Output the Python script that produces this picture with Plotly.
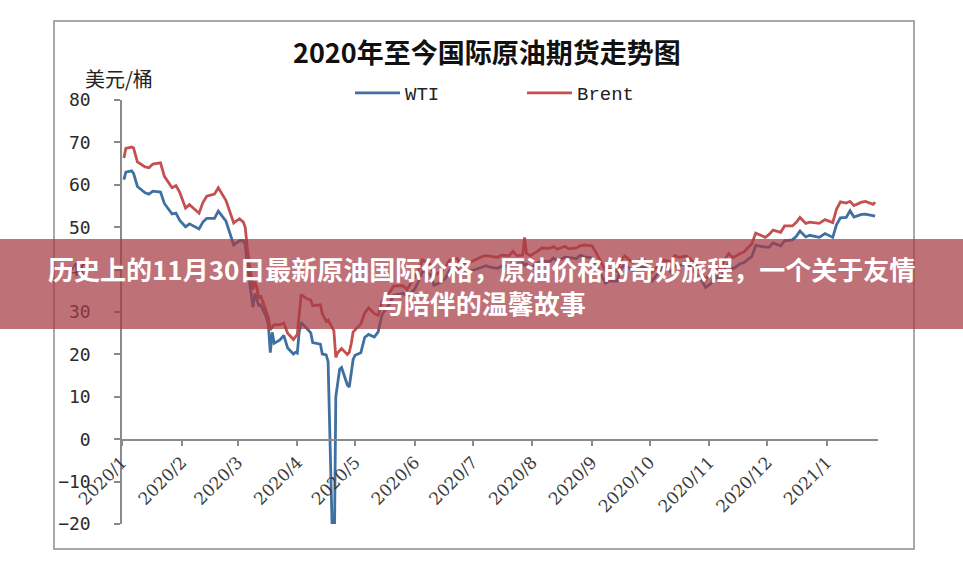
import plotly.graph_objects as go

W, H = 963, 568

# ---------------- data ----------------
brent_dates = [
    "2020-01-02", "2020-01-03", "2020-01-06", "2020-01-07", "2020-01-09", "2020-01-13", "2020-01-15",
    "2020-01-17", "2020-01-21", "2020-01-23", "2020-01-27", "2020-01-29", "2020-01-31", "2020-02-03",
    "2020-02-05", "2020-02-07", "2020-02-10", "2020-02-12", "2020-02-14", "2020-02-18", "2020-02-20",
    "2020-02-24", "2020-02-26", "2020-02-28", "2020-03-02", "2020-03-04", "2020-03-05", "2020-03-06",
    "2020-03-09", "2020-03-10", "2020-03-11", "2020-03-12", "2020-03-13", "2020-03-16", "2020-03-17",
    "2020-03-18", "2020-03-20", "2020-03-23", "2020-03-25", "2020-03-27", "2020-03-30", "2020-04-01",
    "2020-04-02", "2020-04-03", "2020-04-06", "2020-04-08", "2020-04-09", "2020-04-13", "2020-04-14",
    "2020-04-16", "2020-04-17", "2020-04-20", "2020-04-21", "2020-04-22", "2020-04-24", "2020-04-27",
    "2020-04-28", "2020-04-29", "2020-04-30", "2020-05-04", "2020-05-06", "2020-05-08", "2020-05-11",
    "2020-05-13", "2020-05-15", "2020-05-19", "2020-05-21", "2020-05-26", "2020-05-28", "2020-06-01",
    "2020-06-03", "2020-06-05", "2020-06-09", "2020-06-11", "2020-06-15", "2020-06-17", "2020-06-19",
    "2020-06-23", "2020-06-25", "2020-06-29", "2020-07-01", "2020-07-06", "2020-07-08", "2020-07-10",
    "2020-07-14", "2020-07-16", "2020-07-20", "2020-07-22", "2020-07-24", "2020-07-27", "2020-07-28",
    "2020-07-29", "2020-07-31", "2020-08-04", "2020-08-06", "2020-08-10", "2020-08-12", "2020-08-14",
    "2020-08-18", "2020-08-20", "2020-08-24", "2020-08-26", "2020-08-28", "2020-09-01", "2020-09-03",
    "2020-09-08", "2020-09-10", "2020-09-14", "2020-09-16", "2020-09-18", "2020-09-22", "2020-09-24",
    "2020-09-28", "2020-09-30", "2020-10-02", "2020-10-06", "2020-10-08", "2020-10-12", "2020-10-14",
    "2020-10-16", "2020-10-20", "2020-10-22", "2020-10-26", "2020-10-28", "2020-10-30", "2020-11-02",
    "2020-11-04", "2020-11-06", "2020-11-09", "2020-11-11", "2020-11-13", "2020-11-17", "2020-11-19",
    "2020-11-23", "2020-11-25", "2020-11-27", "2020-11-30", "2020-12-02", "2020-12-04", "2020-12-08",
    "2020-12-10", "2020-12-14", "2020-12-16", "2020-12-18", "2020-12-21", "2020-12-23", "2020-12-28",
    "2020-12-31", "2021-01-04", "2021-01-06", "2021-01-08", "2021-01-11", "2021-01-13", "2021-01-15",
    "2021-01-19", "2021-01-21", "2021-01-25", "2021-01-26",
]
brent_values = [
    66.3, 68.6, 68.9, 68.7, 65.4, 64.2, 64.0,
    64.9, 65.2, 62.0, 59.3, 59.8, 58.2, 54.5,
    55.3, 54.5, 53.3, 55.8, 57.3, 57.8, 59.3,
    56.3, 53.4, 51.0, 52.0, 51.2, 49.9, 45.3,
    35.3, 37.2, 35.8, 33.2, 33.9, 30.1, 28.7,
    25.8, 27.0, 27.0, 27.4, 25.0, 23.5, 24.7,
    29.9, 34.1, 33.1, 32.8, 31.5, 31.7, 29.6,
    27.8, 28.1, 25.6, 19.3, 20.4, 21.4, 20.0,
    20.5, 22.5, 25.3, 27.2, 29.7, 31.0, 29.6,
    29.2, 32.5, 34.7, 36.1, 36.2, 35.3, 38.3,
    39.8, 42.3, 41.2, 38.6, 39.7, 40.7, 42.2,
    42.6, 41.1, 41.7, 42.0, 43.1, 43.3, 43.2,
    42.9, 43.4, 43.3, 44.3, 43.3, 43.4, 47.6,
    43.8, 43.3, 44.4, 45.1, 45.0, 45.4, 44.8,
    45.5, 44.9, 45.1, 45.6, 45.8, 45.6, 44.1,
    39.8, 40.1, 39.6, 42.2, 43.2, 41.7, 41.9,
    42.4, 41.0, 39.3, 41.3, 42.3, 41.7, 43.3,
    42.9, 43.2, 42.5, 40.5, 39.1, 37.5, 39.7,
    41.2, 39.5, 42.4, 43.8, 42.8, 43.8, 44.2,
    46.1, 48.6, 48.2, 47.6, 48.3, 49.3, 48.8,
    50.3, 50.3, 51.1, 52.3, 50.9, 51.2, 50.9,
    51.8, 51.1, 54.3, 56.0, 55.7, 56.1, 55.1,
    55.9, 56.1, 55.4, 55.9,
]

wti_dates = [
    "2020-01-02", "2020-01-03", "2020-01-06", "2020-01-07", "2020-01-09", "2020-01-13", "2020-01-15",
    "2020-01-17", "2020-01-21", "2020-01-23", "2020-01-27", "2020-01-29", "2020-01-31", "2020-02-03",
    "2020-02-05", "2020-02-07", "2020-02-10", "2020-02-12", "2020-02-14", "2020-02-18", "2020-02-20",
    "2020-02-24", "2020-02-26", "2020-02-28", "2020-03-02", "2020-03-04", "2020-03-05", "2020-03-06",
    "2020-03-09", "2020-03-10", "2020-03-11", "2020-03-12", "2020-03-13", "2020-03-16", "2020-03-17",
    "2020-03-18", "2020-03-19", "2020-03-20", "2020-03-23", "2020-03-25", "2020-03-27", "2020-03-30",
    "2020-03-31", "2020-04-01", "2020-04-02", "2020-04-03", "2020-04-06", "2020-04-08", "2020-04-09",
    "2020-04-13", "2020-04-14", "2020-04-16", "2020-04-17", "2020-04-20", "2020-04-21", "2020-04-22",
    "2020-04-23", "2020-04-24", "2020-04-27", "2020-04-28", "2020-04-29", "2020-04-30", "2020-05-01",
    "2020-05-04", "2020-05-06", "2020-05-08", "2020-05-11", "2020-05-13", "2020-05-15", "2020-05-19",
    "2020-05-21", "2020-05-26", "2020-05-28", "2020-06-01", "2020-06-03", "2020-06-05", "2020-06-09",
    "2020-06-11", "2020-06-15", "2020-06-17", "2020-06-19", "2020-06-23", "2020-06-25", "2020-06-29",
    "2020-07-01", "2020-07-06", "2020-07-08", "2020-07-10", "2020-07-14", "2020-07-16", "2020-07-20",
    "2020-07-22", "2020-07-24", "2020-07-27", "2020-07-28", "2020-07-29", "2020-07-31", "2020-08-04",
    "2020-08-06", "2020-08-10", "2020-08-12", "2020-08-14", "2020-08-18", "2020-08-20", "2020-08-24",
    "2020-08-26", "2020-08-28", "2020-09-01", "2020-09-03", "2020-09-08", "2020-09-10", "2020-09-14",
    "2020-09-16", "2020-09-18", "2020-09-22", "2020-09-24", "2020-09-28", "2020-09-30", "2020-10-02",
    "2020-10-06", "2020-10-08", "2020-10-12", "2020-10-14", "2020-10-16", "2020-10-20", "2020-10-22",
    "2020-10-26", "2020-10-28", "2020-10-30", "2020-11-02", "2020-11-04", "2020-11-06", "2020-11-09",
    "2020-11-11", "2020-11-13", "2020-11-17", "2020-11-19", "2020-11-23", "2020-11-25", "2020-11-27",
    "2020-11-30", "2020-12-02", "2020-12-04", "2020-12-08", "2020-12-10", "2020-12-14", "2020-12-16",
    "2020-12-18", "2020-12-21", "2020-12-23", "2020-12-28", "2020-12-31", "2021-01-04", "2021-01-06",
    "2021-01-08", "2021-01-11", "2021-01-13", "2021-01-15", "2021-01-19", "2021-01-21", "2021-01-25",
    "2021-01-26",
]
wti_values = [
    61.2, 63.0, 63.3, 62.7, 59.6, 58.1, 57.8,
    58.5, 58.3, 55.6, 53.1, 53.3, 51.6, 50.1,
    50.8, 50.3, 49.6, 51.2, 52.1, 52.1, 53.8,
    51.4, 48.7, 45.8, 46.8, 46.8, 45.9, 41.3,
    31.1, 34.4, 33.0, 31.5, 31.7, 28.7, 27.0,
    20.4, 25.2, 22.6, 23.4, 24.5, 21.5, 20.1,
    20.5, 20.3, 25.3, 27.5, 26.1, 25.1, 22.8,
    22.4, 20.1, 19.9, 18.3, -37.6, 10.0, 13.8,
    16.5, 16.9, 12.8, 12.3, 15.1, 18.8, 19.8,
    20.4, 24.0, 24.7, 24.1, 25.3, 29.4, 32.0,
    33.9, 34.4, 33.7, 35.4, 37.3, 39.6, 38.9,
    36.3, 37.1, 38.0, 39.8, 40.4, 38.7, 39.7,
    39.8, 40.6, 40.9, 40.6, 40.3, 40.8, 40.8,
    41.9, 41.3, 41.6, 41.0, 41.3, 40.3, 41.7,
    42.0, 41.9, 42.7, 42.0, 42.9, 42.8, 42.6,
    43.4, 43.0, 42.8, 41.4, 36.8, 37.3, 37.3,
    40.2, 41.1, 39.8, 40.3, 40.6, 40.2, 37.1,
    39.6, 41.2, 39.4, 41.0, 40.9, 41.5, 40.6,
    38.6, 37.4, 35.8, 36.8, 39.2, 37.1, 40.3,
    41.5, 40.1, 41.4, 41.7, 43.1, 45.7, 45.5,
    45.3, 45.3, 46.3, 45.6, 46.8, 47.0, 47.8,
    49.1, 47.7, 48.1, 47.6, 48.5, 47.6, 50.6,
    52.2, 52.3, 53.9, 52.4, 53.0, 53.1, 52.8,
    52.6,
]

month_ticks = ["2020-01-01", "2020-02-01", "2020-03-01", "2020-04-01", "2020-05-01", "2020-06-01",
               "2020-07-01", "2020-08-01", "2020-09-01", "2020-10-01", "2020-11-01", "2020-12-01",
               "2021-01-01"]
month_labels = ["2020/1", "2020/2", "2020/3", "2020/4", "2020/5", "2020/6", "2020/7", "2020/8",
                "2020/9", "2020/10", "2020/11", "2020/12", "2021/1"]
y_ticks = [-20, -10, 0, 10, 20, 30, 40, 50, 60, 70, 80]

title_text = "2020年至今国际原油期货走势图"
unit_text = "美元/桶"
banner_text = "历史上的11月30日最新原油国际价格，原油价格的奇妙旅程，一个关于友情<br>与陪伴的温馨故事"

# ---------------- figure ----------------
def px_x(x):
    return x / W

def px_y(y):
    return 1 - y / H

fig = go.Figure()
fig.add_trace(go.Scatter(x=wti_dates, y=wti_values, mode="lines", name="WTI",
                         line=dict(color="#3f70a1", width=2.8)))
fig.add_trace(go.Scatter(x=brent_dates, y=brent_values, mode="lines", name="Brent",
                         line=dict(color="#c4504f", width=2.8)))

axis_grey = "#8a8a8a"
fig.update_layout(
    width=W, height=H,
    autosize=False,
    margin=dict(l=0, r=0, t=0, b=0, pad=0, autoexpand=False),
    paper_bgcolor="white", plot_bgcolor="white",
    showlegend=True,
    legend=dict(orientation="h", x=px_x(350), xanchor="left", y=px_y(93), yanchor="middle",
                bgcolor="rgba(0,0,0,0)", itemwidth=45,
                entrywidth=112, entrywidthmode="pixels",
                font=dict(family="Liberation Mono, DejaVu Sans Mono, monospace", size=19, color="#222")),
    xaxis=dict(
        type="date",
        automargin=False,
        domain=[px_x(122), px_x(878)],
        range=["2020-01-01", "2021-01-27 12:00"],
        anchor="free", position=px_y(440),
        showgrid=False, zeroline=False,
        showline=True, linecolor=axis_grey, linewidth=1.5,
        ticks="outside", ticklen=5, tickcolor=axis_grey, tickwidth=1.5,
        tickmode="array", tickvals=month_ticks, ticktext=month_labels,
        tickangle=-45,
        tickfont=dict(family="DejaVu Serif, Liberation Serif, serif", size=17, color="#3a3a3a"),
    ),
    yaxis=dict(
        automargin=False,
        domain=[px_y(524), px_y(100)],
        range=[-20, 80],
        showgrid=False, zeroline=False,
        showline=True, linecolor=axis_grey, linewidth=1.5,
        ticks="outside", ticklen=6, tickcolor=axis_grey, tickwidth=1.5,
        tickmode="array", tickvals=y_ticks,
        ticklabelstandoff=20,
        tickfont=dict(family="DejaVu Sans Mono, Liberation Mono, monospace", size=18, color="#2a2a2a"),
    ),
    shapes=[
        dict(type="rect", xref="paper", yref="paper",
             x0=px_x(54), x1=px_x(914), y0=px_y(549), y1=px_y(21),
             line=dict(color="#8c8c8c", width=1.5), fillcolor="rgba(0,0,0,0)", layer="below"),
        dict(type="rect", xref="paper", yref="paper",
             x0=0, x1=1, y0=px_y(329), y1=px_y(239),
             line=dict(width=0), fillcolor="rgba(165,60,68,0.72)", layer="above"),
    ],
    annotations=[
        dict(text=title_text, xref="paper", yref="paper", x=px_x(487), y=px_y(52),
             xanchor="center", yanchor="middle", showarrow=False,
             font=dict(family="Noto Sans CJK SC", size=27, color="#111", weight="bold")),
        dict(text=unit_text, xref="paper", yref="paper", x=px_x(119), y=px_y(78),
             xanchor="center", yanchor="middle", showarrow=False,
             font=dict(family="Noto Sans CJK SC", size=20, color="#222")),
        dict(text=banner_text, xref="paper", yref="paper", x=0.5, y=px_y(285),
             xanchor="center", yanchor="middle", align="center", showarrow=False,
             font=dict(family="Noto Sans CJK SC", size=26, color="white", weight="bold")),
    ],
)

fig.write_html("out.html")
